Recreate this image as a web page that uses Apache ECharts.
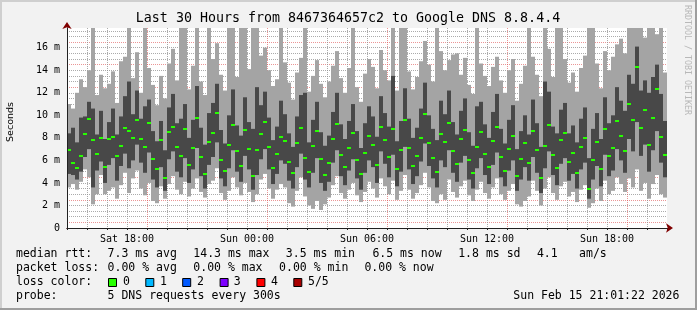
<!DOCTYPE html>
<html><head><meta charset="utf-8">
<script src="https://cdn.jsdelivr.net/npm/echarts@6/dist/echarts.min.js"></script>
<style>html,body{margin:0;padding:0;background:#f2f2f2}#c{width:697px;height:310px}</style>
</head><body><div id="c"></div><script>
// time axis: hours since Sat 00:00; first sample at Sat 15:01:22, one column per 12 minutes
const startHour = 15.0228;
const stepHours = 0.2;
const xTickLabels = {18:'Sat 18:00', 24:'Sun 00:00', 30:'Sun 06:00', 36:'Sun 12:00', 42:'Sun 18:00'};
const yLabelUnit = ' m';

// median rtt (ms)
const med = [
6.9,5.8,5.3,6.4,8.3,9.7,7.8,6.6,8.0,5.4,
7.9,8.1,6.4,7.3,8.9,8.6,8.0,9.6,7.9,7.2,
9.3,6.1,5.2,7.8,4.4,8.5,9.0,7.2,6.4,8.8,
5.6,7.1,9.8,6.3,4.8,7.6,8.4,10.2,6.0,5.1,
7.4,9.1,6.8,5.5,8.7,7.0,4.6,6.9,8.3,9.4,
7.2,5.3,6.6,8.1,7.7,5.9,4.9,7.5,8.9,6.2,
5.0,7.3,8.6,6.1,4.7,5.8,7.9,9.2,6.5,5.4,
7.1,8.4,6.0,4.8,6.7,8.2,7.4,5.6,9.0,7.8,
6.3,8.8,5.2,6.9,9.6,7.1,5.5,6.4,8.0,10.1,
7.5,6.2,5.0,8.3,7.6,9.3,6.8,5.7,7.9,8.7,
6.0,4.9,7.2,8.5,6.6,5.4,7.7,9.0,6.3,5.1,
7.0,8.2,4.6,6.1,7.5,5.8,8.6,6.9,4.4,7.3,
9.1,6.5,5.3,7.8,8.4,5.9,6.7,4.9,7.2,8.0,
3.5,6.0,7.6,5.2,8.8,6.4,7.1,9.5,8.2,6.8,
11.0,9.6,14.3,8.9,10.5,7.4,9.8,12.3,8.1,6.5];
// fastest ping
const lo = [
3.6,3.9,3.4,4.1,5.2,4.5,2.1,3.0,4.7,3.0,
3.3,3.6,2.6,3.8,4.9,3.1,4.4,5.1,3.5,2.9,
4.0,2.4,2.2,3.7,2.6,3.9,4.6,3.4,3.0,4.1,
2.8,3.5,4.4,3.2,2.7,3.9,4.2,5.3,3.1,2.5,
3.3,4.5,3.6,2.9,4.0,3.2,2.3,3.0,4.3,4.8,
3.5,2.6,3.4,3.9,3.6,2.2,1.9,3.3,4.5,2.8,
2.0,1.7,2.4,1.6,2.1,2.7,3.8,4.6,3.1,2.6,
3.4,4.0,2.9,2.3,3.2,4.1,3.5,2.7,4.4,3.7,
3.0,4.2,2.5,3.3,4.7,3.4,2.6,3.1,3.8,4.9,
3.6,2.4,2.2,3.0,2.5,4.3,3.2,2.7,3.7,4.2,
2.9,2.4,3.4,4.1,3.1,2.6,3.6,4.4,3.0,2.5,
3.3,3.9,2.1,1.9,2.4,2.8,4.2,3.3,2.0,3.5,
4.5,3.1,2.5,3.7,4.1,2.8,3.2,2.3,3.4,3.8,
1.8,2.2,3.5,2.4,4.2,3.0,3.3,4.5,3.9,3.2,
4.4,3.6,5.2,3.3,4.0,2.6,3.9,4.7,3.0,2.7];
// 2nd ping
const q1 = [
4.8,4.7,4.3,5.0,6.3,7.0,3.6,5.1,5.9,4.0,
5.6,6.2,4.2,5.5,6.6,5.3,6.0,7.4,5.8,4.9,
6.7,4.3,3.6,5.4,3.3,6.1,6.8,5.0,4.5,6.2,
4.0,5.2,7.1,4.6,3.5,5.6,6.3,7.6,4.4,3.7,
5.3,6.9,5.0,4.1,6.4,5.2,3.4,4.7,6.1,7.0,
5.2,3.9,4.8,6.0,5.7,4.2,3.5,5.4,6.6,4.3,
3.6,4.9,6.2,4.0,3.3,4.1,5.8,6.9,4.6,3.8,
5.1,6.1,4.4,3.4,4.9,6.0,5.4,4.0,6.8,5.7,
4.5,6.5,3.7,5.0,7.2,5.2,3.9,4.6,5.9,7.5,
5.5,4.4,3.6,6.0,5.4,6.9,4.9,4.1,5.8,6.4,
4.3,3.5,5.3,6.2,4.7,3.9,5.6,6.7,4.5,3.7,
5.1,6.0,3.3,4.3,5.4,4.2,6.3,4.9,3.1,5.3,
6.8,4.7,3.8,5.7,6.2,4.2,4.8,3.5,5.2,5.8,
2.6,4.3,5.5,3.7,6.5,4.6,5.1,7.0,6.0,4.9,
7.9,6.8,9.4,6.4,7.4,5.0,6.9,8.6,5.8,4.5];
// 4th ping
const q3 = [
8.4,8.9,7.6,9.8,9.9,11.2,10.6,8.3,10.4,7.9,
9.4,10.6,8.3,9.9,11.7,13.0,10.1,12.2,9.7,10.8,
11.4,8.6,7.7,9.5,6.9,10.7,11.9,9.3,9.7,11.0,
8.0,9.6,12.6,8.9,7.4,10.2,11.1,12.8,8.7,7.5,
10.0,12.3,9.1,8.2,11.6,9.4,8.8,12.5,10.9,12.1,
9.8,7.8,9.0,11.3,10.1,8.4,7.2,9.9,11.8,12.0,
7.6,9.6,11.2,8.5,7.3,8.2,10.3,12.0,9.2,7.9,
9.5,11.0,8.6,7.1,9.3,10.8,9.9,8.1,11.7,10.2,
9.0,13.5,7.7,9.5,12.4,9.7,8.0,8.9,10.6,12.9,
10.0,8.8,7.8,11.3,10.1,12.2,9.4,8.3,10.4,11.5,
8.5,7.3,10.8,11.2,9.2,8.0,10.3,11.9,8.8,7.5,
9.6,10.9,7.0,8.6,10.0,8.3,11.4,9.3,7.2,13.0,
12.1,9.0,8.4,10.5,11.1,8.4,9.1,7.6,9.7,10.7,
6.2,8.8,10.2,7.9,11.6,9.3,10.0,12.5,11.3,10.4,
13.6,12.8,16.1,12.2,13.1,12.0,13.4,14.5,11.9,9.5];
// slowest ping
const hi = [
11.0,10.6,12.0,13.2,12.5,14.0,18,11.8,13.6,12.4,
12.8,13.9,11.1,14.8,15.2,18,13.3,15.6,12.0,18,
14.2,12.7,10.9,13.5,11.5,14.6,15.9,13.1,18,18,
12.3,14.4,18,13.0,11.8,18,15.0,16.4,13.6,12.2,
18,18,13.4,18,18,14.1,18,18,15.3,16.0,
14.0,12.6,13.2,18,14.7,12.9,11.4,13.8,15.1,18,
12.1,13.5,14.9,12.8,11.6,13.0,14.4,15.7,13.3,12.0,
14.2,18,12.5,11.2,13.7,15.0,14.3,12.4,15.8,14.0,
13.1,18,12.2,18,18,13.9,12.3,13.4,14.8,16.6,
14.5,13.0,18,15.7,14.0,14.9,15.4,15.5,13.6,15.1,
12.7,11.9,18,14.6,13.5,12.6,14.3,15.2,13.1,12.0,
14.0,15.0,11.3,12.8,14.4,18,15.2,13.6,11.7,18,
15.9,13.4,18,18,15.0,12.9,13.8,12.1,14.2,15.3,
18,18,14.6,12.4,15.7,14.0,15.2,16.3,16.8,15.5,
18,18,18,18,16.9,18,18,17.2,18,13.8];

const C = {
  back:'#f2f2f2', canvas:'#ffffff', shadeA:'#cfcfcf', shadeB:'#9e9e9e',
  grid:'rgba(143,143,143,0.75)', mgrid:'rgba(222,79,79,0.6)', axis:'#212121', arrow:'#800000',
  smokeOuter:'#a4a4a4', smokeInner:'#484848', median:'#26ff00', font:'#000000'
};
const MONO = '"DejaVu Sans Mono", monospace';

const chart = echarts.init(document.getElementById('c'), null, {renderer:'canvas'});
const seriesData = med.map((m, i) => [startHour + i*stepHours, lo[i], q1[i], m, q3[i], hi[i]]);

function renderItem(params, api) {
  const t = api.value(0);
  const cs = params.coordSys;
  const clipBox = {x: cs.x, y: cs.y, width: cs.width, height: cs.height};
  function band(v1, v2, color) {
    const p1 = api.coord([t, v2]);
    const p2 = api.coord([t + stepHours, v1]);
    const x1 = Math.round(p1[0]), x2 = Math.round(p2[0]);
    const shape = echarts.graphic.clipRectByRect(
      {x: x1, y: p1[1], width: x2 - x1, height: p2[1] - p1[1]}, clipBox);
    return shape ? {type:'rect', shape, style:{fill: color}} : null;
  }
  const pm = api.coord([t, api.value(3)]);
  const pm2 = api.coord([t + stepHours, api.value(3)]);
  const children = [
    band(api.value(1), api.value(5), C.smokeOuter),
    band(api.value(2), api.value(4), C.smokeInner),
    {type:'rect', shape:{x: Math.round(pm[0]), y: Math.round(pm[1]) - 1, width: Math.round(pm2[0]) - Math.round(pm[0]), height: 2}, style:{fill: C.median}}
  ].filter(Boolean);
  return {type:'group', children};
}

const xBase = {type:'value', min:15, max:45, interval:1, gridIndex:0};
const yBase = {type:'value', min:0, max:17.75, interval:0.5, gridIndex:0};

const option = {
  backgroundColor: C.back,
  animation: false,
  grid: {left:67, right:30, top:28, bottom:82, show:true, backgroundColor:C.canvas, borderWidth:0},
  xAxis: [
    Object.assign({}, xBase, {
      position:'bottom', z:0,
      axisLine:{show:false},
      axisTick:{show:true, length:2, lineStyle:{color:C.axis}},
      axisLabel:{show:true, margin:6, fontFamily:MONO, fontSize:10, color:C.font,
        formatter: v => xTickLabels[v] || ''},
      splitLine:{show:true, showMinLine:false, showMaxLine:false,
        lineStyle:{type:[1,1], width:1, color:[C.grid,C.grid,C.grid,C.mgrid,C.grid,C.grid]}}
    }),
    Object.assign({}, xBase, {
      position:'bottom', z:3,
      axisLine:{show:true, lineStyle:{color:C.arrow, width:1}, symbol:['none','arrow'], symbolSize:[7,7], symbolOffset:[0,6]},
      axisTick:{show:false}, axisLabel:{show:false}, splitLine:{show:false}
    }),
    Object.assign({}, xBase, {
      position:'bottom', z:3,
      axisLine:{show:true, lineStyle:{color:C.axis, width:1}},
      axisTick:{show:false}, axisLabel:{show:false}, splitLine:{show:false}
    })
  ],
  yAxis: [
    Object.assign({}, yBase, {
      position:'left', z:0,
      axisLine:{show:false},
      axisTick:{show:false},
      axisLabel:{show:true, margin:7, fontFamily:MONO, fontSize:10, color:C.font,
        formatter: v => (Math.abs(v % 2) < 1e-9 ? (v === 0 ? '0' : v + yLabelUnit) : '')},
      splitLine:{show:true, showMinLine:false, showMaxLine:false,
        lineStyle:{type:[1,1], width:1, color:[C.mgrid,C.grid,C.grid,C.grid]}}
    }),
    Object.assign({}, yBase, {
      position:'left', z:3,
      axisLine:{show:true, onZero:false, lineStyle:{color:C.arrow, width:1}, symbol:['none','arrow'], symbolSize:[7,7], symbolOffset:[0,6]},
      axisTick:{show:false}, axisLabel:{show:false}, splitLine:{show:false}
    }),
    Object.assign({}, yBase, {
      position:'left', z:3,
      axisLine:{show:true, onZero:false, lineStyle:{color:C.axis, width:1}},
      axisTick:{show:false}, axisLabel:{show:false}, splitLine:{show:false}
    })
  ],
  series: [{
    type:'custom', xAxisIndex:0, yAxisIndex:0, z:2,
    renderItem, data: seriesData, encode:{x:0, y:[1,5]}
  }],
  graphic: [
    {type:'rect', shape:{x:0, y:0, width:697, height:2}, style:{fill:C.shadeA}, silent:true},
    {type:'rect', shape:{x:0, y:0, width:2, height:310}, style:{fill:C.shadeA}, silent:true},
    {type:'rect', shape:{x:695, y:0, width:2, height:310}, style:{fill:C.shadeB}, silent:true},
    {type:'rect', shape:{x:0, y:308, width:697, height:2}, style:{fill:C.shadeB}, silent:true},
    {type:'text', x:348, y:19, style:{text:'Last 30 Hours from 8467364657c2 to Google DNS 8.8.4.4', font:'13.3px ' + MONO, fill:C.font, textAlign:'center', textVerticalAlign:'middle'}},
    {type:'text', x:11, y:122, rotation:Math.PI/2, style:{text:'Seconds', font:'9.5px "DejaVu Sans", sans-serif', fill:C.font, textAlign:'center', textVerticalAlign:'middle'}},
    {type:'text', x:687, y:5, rotation:-Math.PI/2, style:{text:'RRDTOOL / TOBI OETIKER', font:'8.3px ' + MONO, fill:'#b8b8b8', textAlign:'left', textVerticalAlign:'middle'}}
  ]
};

// legend block (rrdtool style text lines)
const legendFont = '11.5px ' + MONO;
const legendRows = [
  [254, [[16,'median rtt:'],[107.6,'7.3 ms avg'],[193.3,'14.3 ms max'],[285.8,'3.5 ms min'],[372.4,'6.5 ms now'],[458.2,'1.8 ms sd'],[536.9,'4.1'],[579.1,'am/s']]],
  [268, [[16,'packet loss:'],[107.6,'0.00 % avg'],[193.3,'0.00 % max'],[279.1,'0.00 % min'],[364.4,'0.00 % now']]],
  [282, [[16,'loss color:'],[123,'0'],[160,'1'],[197,'2'],[233.8,'3'],[271,'4'],[308,'5/5']]],
  [296, [[16,'probe:'],[107.6,'5 DNS requests every 300s'],[513.3,'Sun Feb 15 21:01:22 2026']]]
];
legendRows.forEach(([y, items]) => items.forEach(([x, t]) => option.graphic.push(
  {type:'text', x, y, style:{text:t, font:legendFont, fill:C.font, textAlign:'left', textVerticalAlign:'middle'}})));
const lossColors = [['#26ff00',108],['#00b8ff',145.3],['#0059ff',182.2],['#7e00ff',219.6],['#ff0000',256.4],['#a80000',293.3]];
lossColors.forEach(([col, x]) => option.graphic.push(
  {type:'rect', shape:{x:x+0.5, y:278.5, width:8, height:8}, style:{fill:col, stroke:'#000', lineWidth:1}}));

chart.setOption(option);
</script></body></html>
